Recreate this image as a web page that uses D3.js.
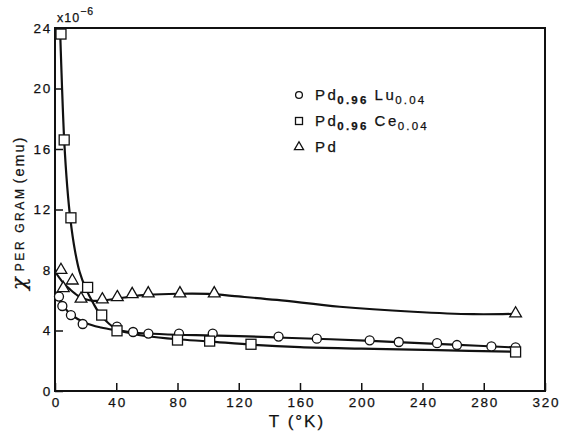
<!DOCTYPE html>
<html><head><meta charset="utf-8">
<script src="https://cdn.jsdelivr.net/npm/d3@7"></script>
<style>body{margin:0;background:#fff}svg{display:block}text{font-family:"Liberation Sans",Arial,sans-serif;fill:#111;stroke:#111;stroke-width:0.25px}</style>
</head><body><svg id="c" width="566" height="433"></svg>
<script>
// measured points
const luT = [2.6,4.8,10.4,18.1,40.5,51,61,81,103,146,171,205.5,224.5,249.5,262.5,285,300.8];
const luX = [6.24,5.62,5.02,4.43,4.25,3.9,3.8,3.8,3.8,3.6,3.46,3.35,3.24,3.16,3.04,2.95,2.88];
const ceT = [3.9,6,10.4,21.3,30.5,40.5,80,101,128,300.8];
const ceX = [23.6,16.6,11.45,6.85,5.02,3.98,3.37,3.3,3.09,2.58];
const pdT = [3.9,5.4,11.3,17,30.9,40.7,50.4,60.9,81.6,104,300.8];
const pdX = [8.0,6.8,7.3,6.1,6.05,6.2,6.4,6.45,6.45,6.45,5.12];
// fitted curves
const luFitT = [0,5,10,20,30,40,50,60,80,100,120,150,180,220,260,300];
const luFitX = [6.6,5.7,5.1,4.5,4.2,4.02,3.88,3.8,3.72,3.68,3.63,3.52,3.42,3.25,3.07,2.88];
const ceFitT = [3.3,4,6,8,10,13,16,20,25,30,40,50,60,80,100,130,160,200,250,300];
const ceFitX = [24,21.8,16.6,13.5,11.4,9.3,7.9,6.8,5.8,5.0,4.1,3.8,3.62,3.42,3.28,3.05,2.9,2.8,2.7,2.6];
const pdFitT = [0,5,10,15,20,25,30,40,50,60,80,100,120,145,186,234,273,300];
const pdFitX = [7.9,7.2,6.7,6.3,6.07,5.96,5.97,6.1,6.25,6.35,6.43,6.42,6.25,6.02,5.57,5.24,5.08,5.1];
const xTicks = [0,40,80,120,160,200,240,280,320];
const yTicks = [0,4,8,12,16,20,24];

const svg = d3.select("#c");
const x = d3.scaleLinear().domain([0,320]).range([55,545]);
const y = d3.scaleLinear().domain([0,24]).range([391,28]);

function styleAxis(g){
  g.select(".domain").remove();
  g.selectAll("line").attr("stroke","#111").attr("stroke-width",1.5);
  g.selectAll("text").attr("font-size",13.5).attr("fill","#111").style("letter-spacing","1.8px");
}
// axes with inward ticks
svg.append("g").attr("transform","translate(0,391)")
  .call(d3.axisBottom(x).tickValues(xTicks).tickSize(-8).tickPadding(6).tickFormat(d3.format("d")))
  .call(styleAxis)
  .call(g=>g.selectAll("text").attr("dx","0.9px"));
svg.append("g").attr("transform","translate(55,0)")
  .call(d3.axisLeft(y).tickValues(yTicks).tickSize(-8).tickPadding(3).tickFormat(d3.format("d")))
  .call(styleAxis);

svg.append("rect").attr("x",55).attr("y",28).attr("width",490).attr("height",363)
  .attr("fill","none").attr("stroke","#111").attr("stroke-width",2);

// curves
const line = d3.line().x(d=>x(d[0])).y(d=>y(d[1])).curve(d3.curveCatmullRom.alpha(0.5));
[[luFitT,luFitX],[ceFitT,ceFitX],[pdFitT,pdFitX]].forEach(([t,v])=>{
  svg.append("path").datum(t.map((d,i)=>[d,v[i]])).attr("d",line)
    .attr("fill","none").attr("stroke","#111").attr("stroke-width",2.2);
});

// markers
const mk = {stroke:"#111","stroke-width":1.3,fill:"#fff"};
function sty(s){for(const k in mk) s.attr(k,mk[k]); return s;}
sty(svg.append("g").selectAll("circle").data(luT.map((d,i)=>[d,luX[i]])).join("circle")
  .attr("cx",d=>x(d[0])).attr("cy",d=>y(d[1])).attr("r",4.5));
sty(svg.append("g").selectAll("rect").data(ceT.map((d,i)=>[d,ceX[i]])).join("rect")
  .attr("x",d=>x(d[0])-5).attr("y",d=>y(d[1])-5).attr("width",10).attr("height",10));
const tri = d3.symbol().type(d3.symbolTriangle).size(60);
sty(svg.append("g").selectAll("path").data(pdT.map((d,i)=>[d,pdX[i]])).join("path")
  .attr("d",tri).attr("transform",d=>`translate(${x(d[0])},${y(d[1])})`));

// legend
const leg = [["circle","Pd","0.96","Lu","0.04"],["square","Pd","0.96","Ce","0.04"],["triangle","Pd","","",""]];
leg.forEach((r,i)=>{
  const cy = 95 + i*26;
  if(r[0]==="circle") sty(svg.append("circle").attr("cx",299).attr("cy",cy).attr("r",3.4));
  else if(r[0]==="square") sty(svg.append("rect").attr("x",295.5).attr("y",cy-3.5).attr("width",7).attr("height",7));
  else sty(svg.append("path").attr("d",d3.symbol().type(d3.symbolTriangle).size(36)).attr("transform",`translate(299,${cy})`));
  const t = svg.append("text").attr("x",315).attr("y",cy+5).attr("font-size",15).style("letter-spacing","2.5px");
  t.append("tspan").text(r[1]);
  if(r[2]){
    t.append("tspan").attr("font-size",11.5).attr("font-weight","bold").attr("dy",4).attr("dx",-1).style("letter-spacing","2.2px").text(r[2]);
    t.append("tspan").attr("dy",-4).attr("dx",6).text(r[3]);
    t.append("tspan").attr("font-size",11.5).attr("dy",4).attr("dx",-1).style("letter-spacing","2.2px").text(r[4]);
  }
});

// y units
const u = svg.append("text").attr("x",57).attr("y",22).attr("font-size",12.5).style("letter-spacing","1px");
u.append("tspan").text("x10");
u.append("tspan").attr("font-size",10.5).attr("dy",-7).text("−6");

// axis titles
svg.append("text").attr("x",297).attr("y",427).attr("text-anchor","middle").attr("font-size",17)
  .style("letter-spacing","2px").text("T (°K)");
const yl = svg.append("text").attr("transform","translate(24,290) rotate(-90)");
yl.append("tspan").attr("font-size",21).attr("font-family","DejaVu Serif").attr("font-style","italic").attr("dy",2).text("χ");
yl.append("tspan").attr("font-size",12).attr("dx",6).attr("dy",-2).style("letter-spacing","2.6px").text("PER GRAM");
yl.append("tspan").attr("font-size",14.5).attr("dx",3).style("letter-spacing","2px").text("(emu)");
</script></body></html>
